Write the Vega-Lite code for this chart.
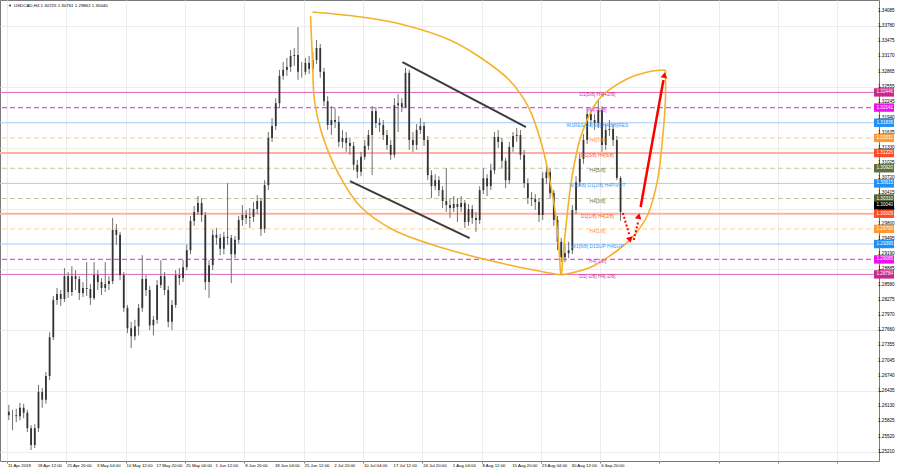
{
"$schema":"https://vega.github.io/schema/vega-lite/v6.json",
"width":879,"height":461,
"autosize":{"type":"none"},
"padding":{"left":0,"top":0,"right":21,"bottom":9},
"background":"#ffffff",
"config":{"view":{"stroke":"#7a7a7a","strokeWidth":1},"font":"Liberation Sans",
 "axis":{"labels":false,"tickColor":"#7a7a7a","tickSize":2,"domain":false,"grid":true,"gridColor":"#ececec","gridWidth":1}},
"datasets":{
"candles":[
{"t":2,"o":1.2602,"h":1.2616,"l":1.2585,"c":1.2595},
{"t":6,"o":1.2595,"h":1.2606,"l":1.2565,"c":1.2595},
{"t":10,"o":1.2595,"h":1.2608,"l":1.2581,"c":1.2593},
{"t":14,"o":1.2593,"h":1.2620,"l":1.2585,"c":1.2610},
{"t":18,"o":1.2610,"h":1.2618,"l":1.2589,"c":1.2600},
{"t":22,"o":1.2600,"h":1.2606,"l":1.2561,"c":1.2569},
{"t":26,"o":1.2569,"h":1.2575,"l":1.2525,"c":1.2535},
{"t":30,"o":1.2535,"h":1.2577,"l":1.2529,"c":1.2569},
{"t":34,"o":1.2569,"h":1.2656,"l":1.2561,"c":1.2642},
{"t":38,"o":1.2642,"h":1.2650,"l":1.2610,"c":1.2626},
{"t":42,"o":1.2626,"h":1.2682,"l":1.2618,"c":1.2674},
{"t":46,"o":1.2674,"h":1.2762,"l":1.2666,"c":1.2752},
{"t":50,"o":1.2752,"h":1.2835,"l":1.2746,"c":1.2827},
{"t":54,"o":1.2827,"h":1.2851,"l":1.2817,"c":1.2839},
{"t":58,"o":1.2839,"h":1.2847,"l":1.2815,"c":1.2829},
{"t":62,"o":1.2829,"h":1.2891,"l":1.2823,"c":1.2875},
{"t":66,"o":1.2875,"h":1.2883,"l":1.2831,"c":1.2843},
{"t":70,"o":1.2843,"h":1.2895,"l":1.2835,"c":1.2875},
{"t":74,"o":1.2875,"h":1.2887,"l":1.2847,"c":1.2869},
{"t":78,"o":1.2869,"h":1.2875,"l":1.2827,"c":1.2841},
{"t":82,"o":1.2841,"h":1.2863,"l":1.2833,"c":1.2851},
{"t":86,"o":1.2851,"h":1.2903,"l":1.2835,"c":1.2849},
{"t":90,"o":1.2849,"h":1.2859,"l":1.2817,"c":1.2831},
{"t":94,"o":1.2831,"h":1.2903,"l":1.2827,"c":1.2877},
{"t":98,"o":1.2877,"h":1.2887,"l":1.2847,"c":1.2863},
{"t":102,"o":1.2863,"h":1.2871,"l":1.2837,"c":1.2851},
{"t":106,"o":1.2851,"h":1.2903,"l":1.2843,"c":1.2859},
{"t":110,"o":1.2859,"h":1.2875,"l":1.2847,"c":1.2865},
{"t":114,"o":1.2865,"h":1.2992,"l":1.2859,"c":1.2968},
{"t":118,"o":1.2968,"h":1.2980,"l":1.2938,"c":1.2958},
{"t":122,"o":1.2958,"h":1.2964,"l":1.2867,"c":1.2877},
{"t":126,"o":1.2877,"h":1.2883,"l":1.2803,"c":1.2811},
{"t":130,"o":1.2811,"h":1.2817,"l":1.2760,"c":1.2770},
{"t":134,"o":1.2770,"h":1.2783,"l":1.2730,"c":1.2754},
{"t":138,"o":1.2754,"h":1.2787,"l":1.2746,"c":1.2774},
{"t":142,"o":1.2774,"h":1.2819,"l":1.2756,"c":1.2811},
{"t":146,"o":1.2811,"h":1.2917,"l":1.2803,"c":1.2869},
{"t":150,"o":1.2869,"h":1.2877,"l":1.2835,"c":1.2847},
{"t":154,"o":1.2847,"h":1.2855,"l":1.2766,"c":1.2776},
{"t":158,"o":1.2776,"h":1.2795,"l":1.2756,"c":1.2787},
{"t":162,"o":1.2787,"h":1.2867,"l":1.2779,"c":1.2857},
{"t":166,"o":1.2857,"h":1.2907,"l":1.2851,"c":1.2875},
{"t":170,"o":1.2875,"h":1.2883,"l":1.2837,"c":1.2847},
{"t":174,"o":1.2847,"h":1.2855,"l":1.2772,"c":1.2783},
{"t":178,"o":1.2783,"h":1.2827,"l":1.2766,"c":1.2817},
{"t":182,"o":1.2817,"h":1.2887,"l":1.2811,"c":1.2877},
{"t":186,"o":1.2877,"h":1.2891,"l":1.2857,"c":1.2871},
{"t":190,"o":1.2871,"h":1.2907,"l":1.2863,"c":1.2893},
{"t":194,"o":1.2893,"h":1.2938,"l":1.2887,"c":1.2927},
{"t":198,"o":1.2927,"h":1.2996,"l":1.2919,"c":1.2986},
{"t":202,"o":1.2986,"h":1.3016,"l":1.2976,"c":1.3004},
{"t":206,"o":1.3004,"h":1.3036,"l":1.2998,"c":1.3022},
{"t":210,"o":1.3022,"h":1.3032,"l":1.2984,"c":1.2998},
{"t":214,"o":1.2998,"h":1.3004,"l":1.2847,"c":1.2863},
{"t":218,"o":1.2863,"h":1.2907,"l":1.2831,"c":1.2897},
{"t":222,"o":1.2897,"h":1.2968,"l":1.2887,"c":1.2958},
{"t":226,"o":1.2958,"h":1.2972,"l":1.2938,"c":1.2952},
{"t":230,"o":1.2952,"h":1.2960,"l":1.2917,"c":1.2930},
{"t":234,"o":1.2930,"h":1.2964,"l":1.2919,"c":1.2954},
{"t":238,"o":1.2954,"h":1.3062,"l":1.2938,"c":1.2952},
{"t":242,"o":1.2952,"h":1.2958,"l":1.2861,"c":1.2919},
{"t":246,"o":1.2919,"h":1.2956,"l":1.2911,"c":1.2948},
{"t":250,"o":1.2948,"h":1.2996,"l":1.2940,"c":1.2988},
{"t":254,"o":1.2988,"h":1.3018,"l":1.2976,"c":1.2998},
{"t":258,"o":1.2998,"h":1.3008,"l":1.2980,"c":1.2992},
{"t":262,"o":1.2992,"h":1.3012,"l":1.2972,"c":1.2994},
{"t":266,"o":1.2994,"h":1.3024,"l":1.2984,"c":1.3010},
{"t":270,"o":1.3010,"h":1.3038,"l":1.3000,"c":1.3026},
{"t":274,"o":1.3026,"h":1.3032,"l":1.2956,"c":1.2970},
{"t":278,"o":1.2970,"h":1.3068,"l":1.2962,"c":1.3058},
{"t":282,"o":1.3058,"h":1.3165,"l":1.3048,"c":1.3153},
{"t":286,"o":1.3153,"h":1.3193,"l":1.3145,"c":1.3177},
{"t":290,"o":1.3177,"h":1.3233,"l":1.3169,"c":1.3223},
{"t":294,"o":1.3223,"h":1.3290,"l":1.3213,"c":1.3278},
{"t":298,"o":1.3278,"h":1.3306,"l":1.3270,"c":1.3290},
{"t":302,"o":1.3290,"h":1.3314,"l":1.3278,"c":1.3296},
{"t":306,"o":1.3296,"h":1.3330,"l":1.3286,"c":1.3318},
{"t":310,"o":1.3318,"h":1.3334,"l":1.3298,"c":1.3320},
{"t":314,"o":1.3320,"h":1.3376,"l":1.3270,"c":1.3286},
{"t":318,"o":1.3286,"h":1.3306,"l":1.3274,"c":1.3286},
{"t":322,"o":1.3286,"h":1.3314,"l":1.3280,"c":1.3304},
{"t":326,"o":1.3304,"h":1.3318,"l":1.3282,"c":1.3292},
{"t":330,"o":1.3292,"h":1.3326,"l":1.3286,"c":1.3310},
{"t":334,"o":1.3310,"h":1.3350,"l":1.3302,"c":1.3334},
{"t":338,"o":1.3334,"h":1.3342,"l":1.3274,"c":1.3286},
{"t":342,"o":1.3286,"h":1.3294,"l":1.3217,"c":1.3227},
{"t":346,"o":1.3227,"h":1.3237,"l":1.3169,"c":1.3179},
{"t":350,"o":1.3179,"h":1.3217,"l":1.3159,"c":1.3189},
{"t":354,"o":1.3189,"h":1.3213,"l":1.3173,"c":1.3185},
{"t":358,"o":1.3185,"h":1.3197,"l":1.3135,"c":1.3145},
{"t":362,"o":1.3145,"h":1.3169,"l":1.3133,"c":1.3153},
{"t":366,"o":1.3153,"h":1.3165,"l":1.3125,"c":1.3143},
{"t":370,"o":1.3143,"h":1.3153,"l":1.3119,"c":1.3137},
{"t":374,"o":1.3137,"h":1.3145,"l":1.3088,"c":1.3099},
{"t":378,"o":1.3099,"h":1.3109,"l":1.3072,"c":1.3085},
{"t":382,"o":1.3085,"h":1.3125,"l":1.3076,"c":1.3115},
{"t":386,"o":1.3115,"h":1.3149,"l":1.3109,"c":1.3137},
{"t":390,"o":1.3137,"h":1.3169,"l":1.3129,"c":1.3159},
{"t":394,"o":1.3159,"h":1.3217,"l":1.3078,"c":1.3207},
{"t":398,"o":1.3207,"h":1.3215,"l":1.3173,"c":1.3183},
{"t":402,"o":1.3183,"h":1.3193,"l":1.3165,"c":1.3179},
{"t":406,"o":1.3179,"h":1.3189,"l":1.3149,"c":1.3159},
{"t":410,"o":1.3159,"h":1.3169,"l":1.3129,"c":1.3139},
{"t":414,"o":1.3139,"h":1.3149,"l":1.3109,"c":1.3119},
{"t":418,"o":1.3119,"h":1.3233,"l":1.3113,"c":1.3219},
{"t":422,"o":1.3219,"h":1.3241,"l":1.3165,"c":1.3223},
{"t":426,"o":1.3223,"h":1.3233,"l":1.3205,"c":1.3215},
{"t":430,"o":1.3215,"h":1.3294,"l":1.3213,"c":1.3284},
{"t":434,"o":1.3284,"h":1.3290,"l":1.3129,"c":1.3149},
{"t":438,"o":1.3149,"h":1.3165,"l":1.3125,"c":1.3139},
{"t":442,"o":1.3139,"h":1.3181,"l":1.3129,"c":1.3169},
{"t":446,"o":1.3169,"h":1.3193,"l":1.3161,"c":1.3177},
{"t":450,"o":1.3177,"h":1.3185,"l":1.3137,"c":1.3149},
{"t":454,"o":1.3149,"h":1.3157,"l":1.3068,"c":1.3078},
{"t":458,"o":1.3078,"h":1.3088,"l":1.3032,"c":1.3056},
{"t":462,"o":1.3056,"h":1.3080,"l":1.3048,"c":1.3068},
{"t":466,"o":1.3068,"h":1.3076,"l":1.3036,"c":1.3048},
{"t":470,"o":1.3048,"h":1.3056,"l":1.3012,"c":1.3026},
{"t":474,"o":1.3026,"h":1.3092,"l":1.3004,"c":1.3018},
{"t":478,"o":1.3018,"h":1.3032,"l":1.2992,"c":1.3012},
{"t":482,"o":1.3012,"h":1.3036,"l":1.3004,"c":1.3020},
{"t":486,"o":1.3020,"h":1.3032,"l":1.2984,"c":1.3014},
{"t":490,"o":1.3014,"h":1.3036,"l":1.3004,"c":1.3022},
{"t":494,"o":1.3022,"h":1.3028,"l":1.2972,"c":1.2984},
{"t":498,"o":1.2984,"h":1.3020,"l":1.2976,"c":1.3010},
{"t":502,"o":1.3010,"h":1.3018,"l":1.2980,"c":1.2992},
{"t":506,"o":1.2992,"h":1.3004,"l":1.2964,"c":1.2988},
{"t":510,"o":1.2988,"h":1.3056,"l":1.2980,"c":1.3048},
{"t":514,"o":1.3048,"h":1.3092,"l":1.3040,"c":1.3072},
{"t":518,"o":1.3072,"h":1.3080,"l":1.3036,"c":1.3056},
{"t":522,"o":1.3056,"h":1.3101,"l":1.3048,"c":1.3088},
{"t":526,"o":1.3088,"h":1.3165,"l":1.3080,"c":1.3155},
{"t":530,"o":1.3155,"h":1.3169,"l":1.3133,"c":1.3145},
{"t":534,"o":1.3145,"h":1.3153,"l":1.3092,"c":1.3107},
{"t":538,"o":1.3107,"h":1.3113,"l":1.3052,"c":1.3068},
{"t":542,"o":1.3068,"h":1.3145,"l":1.3060,"c":1.3135},
{"t":546,"o":1.3135,"h":1.3165,"l":1.3125,"c":1.3157},
{"t":550,"o":1.3157,"h":1.3173,"l":1.3145,"c":1.3159},
{"t":554,"o":1.3159,"h":1.3169,"l":1.3109,"c":1.3119},
{"t":558,"o":1.3119,"h":1.3129,"l":1.3052,"c":1.3062},
{"t":562,"o":1.3062,"h":1.3072,"l":1.3020,"c":1.3032},
{"t":566,"o":1.3032,"h":1.3044,"l":1.3016,"c":1.3030},
{"t":570,"o":1.3030,"h":1.3040,"l":1.3008,"c":1.3024},
{"t":574,"o":1.3024,"h":1.3032,"l":1.2984,"c":1.2998},
{"t":578,"o":1.2998,"h":1.3084,"l":1.2988,"c":1.3072},
{"t":582,"o":1.3072,"h":1.3097,"l":1.3060,"c":1.3084},
{"t":586,"o":1.3084,"h":1.3092,"l":1.3032,"c":1.3042},
{"t":590,"o":1.3042,"h":1.3048,"l":1.2976,"c":1.2988},
{"t":594,"o":1.2988,"h":1.2996,"l":1.2927,"c":1.2944},
{"t":598,"o":1.2944,"h":1.2952,"l":1.2903,"c":1.2913},
{"t":602,"o":1.2913,"h":1.2940,"l":1.2903,"c":1.2921},
{"t":606,"o":1.2921,"h":1.2944,"l":1.2911,"c":1.2927},
{"t":610,"o":1.2927,"h":1.3018,"l":1.2919,"c":1.3008},
{"t":614,"o":1.3008,"h":1.3076,"l":1.3000,"c":1.3064},
{"t":618,"o":1.3064,"h":1.3121,"l":1.3056,"c":1.3111},
{"t":622,"o":1.3111,"h":1.3161,"l":1.3101,"c":1.3149},
{"t":626,"o":1.3149,"h":1.3213,"l":1.3141,"c":1.3201},
{"t":630,"o":1.3201,"h":1.3209,"l":1.3177,"c":1.3189},
{"t":634,"o":1.3189,"h":1.3201,"l":1.3169,"c":1.3183},
{"t":638,"o":1.3183,"h":1.3229,"l":1.3173,"c":1.3209},
{"t":642,"o":1.3209,"h":1.3217,"l":1.3125,"c":1.3139},
{"t":646,"o":1.3139,"h":1.3181,"l":1.3129,"c":1.3169},
{"t":650,"o":1.3169,"h":1.3189,"l":1.3157,"c":1.3171},
{"t":654,"o":1.3171,"h":1.3181,"l":1.3137,"c":1.3149},
{"t":658,"o":1.3149,"h":1.3157,"l":1.3068,"c":1.30725},
{"t":662,"o":1.30725,"h":1.30761,"l":1.29862,"c":1.30040}
],
"levels":[
{"p":1.32446,"lab":"D1[5/8] H4[+2/8]","kind":"k1","dash":"n"},
{"p":1.32141,"lab":"H4[+1/8]","kind":"k2","dash":"y"},
{"p":1.31836,"lab":"W1RES D1[4/8] H4[8/8]RES","kind":"k3","dash":"n"},
{"p":1.31531,"lab":"H4[7/8]","kind":"k4","dash":"y"},
{"p":1.31226,"lab":"D1[3/8] H4[6/8]","kind":"k5","dash":"n"},
{"p":1.30920,"lab":"H4[5/8]","kind":"k6","dash":"y"},
{"p":1.30615,"lab":"W1[8/8] D1[2/8] H4PIVOT","kind":"k3","dash":"n"},
{"p":1.30310,"lab":"H4[3/8]","kind":"k7","dash":"y"},
{"p":1.30005,"lab":"D1[1/8] H4[2/8]","kind":"k5","dash":"n"},
{"p":1.29700,"lab":"H4[1/8]","kind":"k4","dash":"y"},
{"p":1.29395,"lab":"W1[6/8] D1SUP H4SUP","kind":"k3","dash":"n"},
{"p":1.29085,"lab":"H4[-1/8]","kind":"k2","dash":"y"},
{"p":1.28784,"lab":"D1[-1/8] H4[-2/8]","kind":"k1","dash":"n"}
],
"yticks":[{"p":1.34085},{"p":1.3378},{"p":1.33475},{"p":1.3317},{"p":1.32865},{"p":1.32555},{"p":1.32245},{"p":1.3194},{"p":1.31635},{"p":1.3133},{"p":1.31025},{"p":1.3072},{"p":1.30415},{"p":1.30105},{"p":1.298},{"p":1.29495},{"p":1.2919},{"p":1.28885},{"p":1.2858},{"p":1.28275},{"p":1.2797},{"p":1.2766},{"p":1.27355},{"p":1.27045},{"p":1.2674},{"p":1.26435},{"p":1.2613},{"p":1.25825},{"p":1.2552},{"p":1.2521}],
"xticks":[{"t":0,"s":"11 Apr 2018"},{"t":32,"s":"18 Apr 12:00"},{"t":64,"s":"25 Apr 20:00"},{"t":96,"s":"3 May 04:00"},{"t":128,"s":"10 May 12:00"},{"t":160,"s":"17 May 20:00"},{"t":192,"s":"25 May 04:00"},{"t":224,"s":"1 Jun 12:00"},{"t":256,"s":"8 Jun 20:00"},{"t":288,"s":"18 Jun 04:00"},{"t":320,"s":"25 Jun 12:00"},{"t":352,"s":"2 Jul 20:00"},{"t":384,"s":"10 Jul 04:00"},{"t":416,"s":"17 Jul 12:00"},{"t":448,"s":"24 Jul 20:00"},{"t":480,"s":"1 Aug 04:00"},{"t":512,"s":"8 Aug 12:00"},{"t":544,"s":"15 Aug 20:00"},{"t":576,"s":"23 Aug 04:00"},{"t":608,"s":"30 Aug 12:00"},{"t":640,"s":"6 Sep 20:00"}],
"arcs":[
{"id":"A","o":0,"t":329.6,"p":1.34064},{"id":"A","o":1,"t":381.9,"p":1.33964},{"id":"A","o":2,"t":424.5,"p":1.33823},{"id":"A","o":3,"t":477.9,"p":1.33501},{"id":"A","o":4,"t":509.9,"p":1.33159},{"id":"A","o":5,"t":541.9,"p":1.32696},{"id":"A","o":6,"t":563.2,"p":1.32132},{"id":"A","o":7,"t":577.1,"p":1.31388},{"id":"A","o":8,"t":586.7,"p":1.30583},{"id":"A","o":9,"t":592.0,"p":1.29979},{"id":"A","o":10,"t":595.2,"p":1.29375},{"id":"A","o":11,"t":597.3,"p":1.28792},
{"id":"B","o":0,"t":327.5,"p":1.33984},{"id":"B","o":1,"t":329.6,"p":1.33099},{"id":"B","o":2,"t":331.7,"p":1.32294},{"id":"B","o":3,"t":339.2,"p":1.3165},{"id":"B","o":4,"t":357.3,"p":1.30824},{"id":"B","o":5,"t":381.9,"p":1.3014},{"id":"B","o":6,"t":417.1,"p":1.29677},{"id":"B","o":7,"t":470.4,"p":1.29315},{"id":"B","o":8,"t":541.9,"p":1.28973},{"id":"B","o":9,"t":597.3,"p":1.28772},
{"id":"C","o":0,"t":598.4,"p":1.28792},{"id":"C","o":1,"t":600.5,"p":1.29275},{"id":"C","o":2,"t":602.7,"p":1.29677},{"id":"C","o":3,"t":609.1,"p":1.30683},{"id":"C","o":4,"t":619.7,"p":1.31589},{"id":"C","o":5,"t":637.9,"p":1.32294},{"id":"C","o":6,"t":666.7,"p":1.32696},{"id":"C","o":7,"t":691.2,"p":1.32857},{"id":"C","o":8,"t":710.4,"p":1.32897},
{"id":"D","o":0,"t":598.4,"p":1.28772},{"id":"D","o":1,"t":630.4,"p":1.28934},{"id":"D","o":2,"t":659.2,"p":1.29275},{"id":"D","o":3,"t":675.2,"p":1.29536},{"id":"D","o":4,"t":691.2,"p":1.29979},{"id":"D","o":5,"t":701.9,"p":1.30683},{"id":"D","o":6,"t":707.2,"p":1.31488},{"id":"D","o":7,"t":710.4,"p":1.32294},{"id":"D","o":8,"t":710.4,"p":1.32897}
],
"channel":[
{"id":"U","o":0,"t":426.7,"p":1.33058},{"id":"U","o":1,"t":560.0,"p":1.3175},
{"id":"L","o":0,"t":370.1,"p":1.30663},{"id":"L","o":1,"t":499.2,"p":1.29516}
],
"arrows":[
{"id":"s","o":0,"t":683.7,"p":1.3014},{"id":"s","o":1,"t":708.3,"p":1.32696},
{"id":"d1","o":0,"t":664.5,"p":1.30019},{"id":"d1","o":1,"t":671.5,"p":1.29577},
{"id":"d2","o":0,"t":676.3,"p":1.29476},{"id":"d2","o":1,"t":680.9,"p":1.29838}
],
"heads":[
{"t":709.3,"p":1.32797,"dir":10},
{"t":672.2,"p":1.29476,"dir":165},
{"t":681.6,"p":1.29959,"dir":12}
]
},
"layer":[
{"data":{"name":"levels"},
 "transform":[{"filter":"datum.kind!=='k2'"}],
 "mark":{"type":"rule"},
 "encoding":{
  "y":{"field":"p","type":"quantitative","title":null,"scale":{"domain":[1.25029,1.34306],"nice":false,"zero":false},
       "axis":{"orient":"right","values":[1.34085,1.3378,1.33475,1.3317,1.32865,1.32555,1.32245,1.3194,1.31635,1.3133,1.31025,1.3072,1.30415,1.30105,1.298,1.29495,1.2919,1.28885,1.2858,1.28275,1.2797,1.2766,1.27355,1.27045,1.2674,1.26435,1.2613,1.25825,1.2552,1.2521]}},
  "color":{"condition":[{"test":"datum.kind==='k1'","value":"#dd66bb"},{"test":"datum.kind==='k3'","value":"#a6cdf5"},{"test":"datum.kind==='k4'","value":"#f9cf9c"},{"test":"datum.kind==='k5'","value":"#fbb2a0"}],"value":"#c4c4a4"},
  "strokeDash":{"condition":{"test":"datum.dash==='y'","value":[5,3]},"value":[1,0]},
  "strokeWidth":{"condition":{"test":"datum.kind==='k5'","value":2},"value":1}
 }},
{"data":{"name":"levels"},
 "transform":[{"filter":"datum.kind==='k2'"}],
 "mark":{"type":"rule","color":"#ff3cff","strokeWidth":1.2,"strokeDash":[5,3]},
 "encoding":{
  "y":{"field":"p","type":"quantitative","title":null}
 }},
{"data":{"name":"candles"},
 "mark":{"type":"rule","color":"#707070","strokeWidth":1},
 "encoding":{
  "x":{"field":"t","type":"quantitative","title":null,"scale":{"domain":[-2.133,935.47],"nice":false,"zero":false},
       "axis":{"values":[0,32,64,96,128,160,192,224,256,288,320,352,384,416,448,480,512,544,576,608,640,672,704,736,768,800,832,864,896,928]}},
  "y":{"field":"l","type":"quantitative","title":null},
  "y2":{"field":"h"}
 }},
{"data":{"name":"candles"},
 "mark":{"type":"bar","color":"#333333","size":1.8},
 "encoding":{
  "x":{"field":"t","type":"quantitative","title":null},
  "y":{"field":"o","type":"quantitative","title":null},
  "y2":{"field":"c"}
 }},
{"data":{"name":"arcs"},
 "mark":{"type":"line","color":"#f6b12a","strokeWidth":1.6,"interpolate":"catmull-rom"},
 "encoding":{
  "x":{"field":"t","type":"quantitative","title":null},
  "y":{"field":"p","type":"quantitative","title":null},
  "detail":{"field":"id"},
  "order":{"field":"o"}
 }},
{"data":{"name":"channel"},
 "mark":{"type":"line","color":"#3c3c3c","strokeWidth":2},
 "encoding":{
  "x":{"field":"t","type":"quantitative","title":null},
  "y":{"field":"p","type":"quantitative","title":null},
  "detail":{"field":"id"},
  "order":{"field":"o"}
 }},
{"data":{"name":"arrows"},
 "transform":[{"filter":"datum.id==='s'"}],
 "mark":{"type":"line","color":"#ff0000","strokeWidth":2.5},
 "encoding":{
  "x":{"field":"t","type":"quantitative","title":null},
  "y":{"field":"p","type":"quantitative","title":null},
  "detail":{"field":"id"},
  "order":{"field":"o"}
 }},
{"data":{"name":"arrows"},
 "transform":[{"filter":"datum.id!=='s'"}],
 "mark":{"type":"line","color":"#ff0000","strokeWidth":2,"strokeDash":[2,2]},
 "encoding":{
  "x":{"field":"t","type":"quantitative","title":null},
  "y":{"field":"p","type":"quantitative","title":null},
  "detail":{"field":"id"},
  "order":{"field":"o"}
 }},
{"data":{"name":"heads"},
 "mark":{"type":"point","shape":"triangle-up","filled":true,"color":"#ff0000","size":45,"opacity":1},
 "encoding":{
  "x":{"field":"t","type":"quantitative","title":null},
  "y":{"field":"p","type":"quantitative","title":null},
  "angle":{"field":"dir","type":"quantitative","scale":null}
 }},
{"data":{"name":"levels"},
 "mark":{"type":"text","fontSize":4.9,"align":"center","baseline":"middle","dy":3},
 "encoding":{
  "x":{"datum":637},
  "y":{"field":"p","type":"quantitative","title":null},
  "text":{"field":"lab"},
  "color":{"condition":[{"test":"datum.kind==='k1'","value":"#c42f92"},{"test":"datum.kind==='k2'","value":"#e23be2"},{"test":"datum.kind==='k3'","value":"#3a97f5"},{"test":"datum.kind==='k4'","value":"#ff9a33"},{"test":"datum.kind==='k5'","value":"#ff5533"}],"value":"#6b7a40"}
 }},
{"data":{"name":"yticks"},
 "mark":{"type":"text","fontSize":4.6,"align":"left","baseline":"middle","dx":4,"color":"#000000"},
 "encoding":{
  "x":{"datum":935.47},
  "y":{"field":"p","type":"quantitative","title":null},
  "text":{"field":"p","type":"quantitative","format":".5f"}
 }},
{"data":{"name":"xticks"},
 "mark":{"type":"text","fontSize":4.3,"align":"left","baseline":"top","dx":1,"dy":3,"color":"#000000"},
 "encoding":{
  "x":{"field":"t","type":"quantitative","title":null},
  "y":{"datum":1.25029},
  "text":{"field":"s"}
 }},
{"data":{"name":"levels"},
 "mark":{"type":"point","shape":"M0,-0.42H2V0.42H0Z","filled":true,"size":400,"opacity":1,"strokeWidth":0},
 "encoding":{
  "x":{"datum":935.47},
  "y":{"field":"p","type":"quantitative","title":null},
  "color":{"condition":[{"test":"datum.kind==='k1'","value":"#c8288c"},{"test":"datum.kind==='k2'","value":"#ee11ee"},{"test":"datum.kind==='k3'","value":"#1e8ff5"},{"test":"datum.kind==='k4'","value":"#ff9933"},{"test":"datum.kind==='k5'","value":"#ff4a26"},{"test":"datum.kind==='k6'","value":"#5f7040"}],"value":"#4f6030"}
 }},
{"data":{"values":[{"p":1.3004}]},
 "mark":{"type":"point","shape":"M0,-0.4H2V0.4H0Z","filled":true,"size":400,"opacity":1,"strokeWidth":0,"color":"#000000","yOffset":-6.5},
 "encoding":{
  "x":{"datum":935.47},
  "y":{"field":"p","type":"quantitative","title":null}
 }},
{"data":{"name":"levels"},
 "mark":{"type":"text","fontSize":4.6,"align":"left","baseline":"middle","dx":2.5,"color":"#ffffff"},
 "encoding":{
  "x":{"datum":935.47},
  "y":{"field":"p","type":"quantitative","title":null},
  "text":{"field":"p","type":"quantitative","format":".5f"}
 }},
{"data":{"values":[{"p":1.3004}]},
 "mark":{"type":"text","fontSize":4.6,"align":"left","baseline":"middle","dx":2.5,"dy":-6.5,"color":"#ffffff"},
 "encoding":{
  "x":{"datum":935.47},
  "y":{"field":"p","type":"quantitative","title":null},
  "text":{"field":"p","type":"quantitative","format":".5f"}
 }},
{"data":{"values":[{"s":"USDCAD,H4 1.30725 1.30761 1.29862 1.30040","m":"▼"}]},
 "layer":[
  {"mark":{"type":"text","fontSize":4.4,"align":"left","baseline":"middle","dx":9,"dy":6,"color":"#000000"},
   "encoding":{"x":{"datum":-2.133},"y":{"datum":1.34306},"text":{"field":"s"}}},
  {"mark":{"type":"text","fontSize":4,"align":"left","baseline":"middle","dx":3,"dy":6,"color":"#000000"},
   "encoding":{"x":{"datum":-2.133},"y":{"datum":1.34306},"text":{"field":"m"}}}
 ]}
]
}
